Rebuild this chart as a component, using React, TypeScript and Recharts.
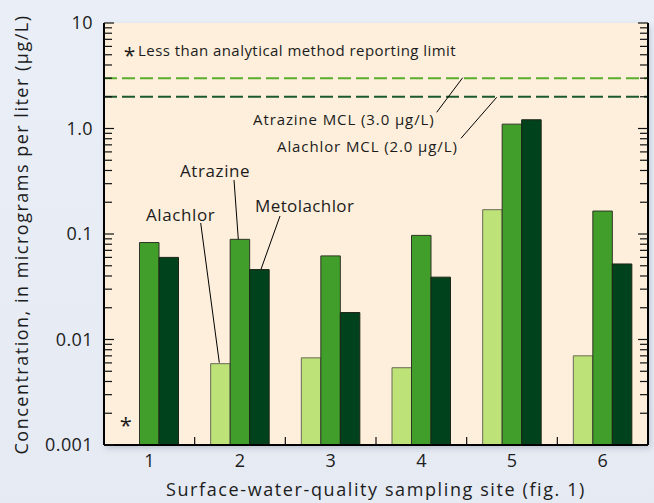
import React from 'react';
import { BarChart, Bar, XAxis, YAxis, ReferenceLine, LabelList } from 'recharts';

const sites = ['1', '2', '3', '4', '5', '6'];
const alachlor = [null, 0.0059, 0.0067, 0.0054, 0.17, 0.007];
const atrazine = [0.083, 0.089, 0.062, 0.097, 1.1, 0.165];
const metolachlor = [0.06, 0.046, 0.018, 0.039, 1.21, 0.052];
// alachlor at site 1 was below the reporting limit
const belowLimit = [true, false, false, false, false, false];

const majorTicks = [0.001, 0.01, 0.1, 1, 10];
const majorLabels = ['0.001', '0.01', '0.1', '1.0', '10'];
const minorSteps = [2, 3, 4, 5, 6, 7, 8, 9];
const minorTicks = majorTicks.slice(0, -1).flatMap((d) => minorSteps.map((m) => +(d * m).toPrecision(3)));
const allTicks = [...majorTicks, ...minorTicks];

const atrazineMCL = 3.0;
const alachlorMCL = 2.0;

const data = sites.map((site, i) => ({
  site,
  alachlor: alachlor[i],
  atrazine: atrazine[i],
  metolachlor: metolachlor[i],
}));

const FONT = "'Open Sans', sans-serif";
const INK = '#1c1c1c';
const TICK = '#111';
const LEFT_MARGIN = 11;

const LeftTick = (props: any) => {
  const { x, y, payload } = props;
  const edge = Number(x) + LEFT_MARGIN;
  const i = majorTicks.indexOf(payload.value);
  const major = i >= 0;
  return (
    <g>
      <line x1={edge} x2={edge + (major ? 10 : 8)} y1={y} y2={y} stroke={TICK} strokeWidth={1.2} />
      {major && (
        <text x={x} y={y} dy="0.36em" textAnchor="end" fontSize={18} letterSpacing={0.4} fontFamily={FONT} fill={INK}>
          {majorLabels[i]}
        </text>
      )}
    </g>
  );
};

const RightTick = (props: any) => {
  const { x, y, payload } = props;
  const major = majorTicks.indexOf(payload.value) >= 0;
  return <line x1={Number(x) - (major ? 10 : 8)} x2={Number(x)} y1={y} y2={y} stroke={TICK} strokeWidth={1.2} />;
};

const TopTick = (props: any) => {
  const { x, y, index, visibleTicksCount, width } = props;
  if (index >= visibleTicksCount - 1) return <g />;
  const bx = Number(x) + width / visibleTicksCount / 2;
  return <line x1={bx} x2={bx} y1={y} y2={y + 7} stroke={TICK} strokeWidth={1.2} />;
};

const BottomTick = (props: any) => {
  const { x, y, index, visibleTicksCount, width, payload } = props;
  const bx = Number(x) + width / visibleTicksCount / 2;
  return (
    <g>
      {index < visibleTicksCount - 1 && (
        <line x1={bx} x2={bx} y1={y} y2={y - 8} stroke={TICK} strokeWidth={1.2} />
      )}
      <text x={x} y={y + 22} textAnchor="middle" fontSize={18} fontFamily={FONT} fill={INK}>
        {payload.value}
      </text>
    </g>
  );
};

const Asterisk = (props: any) => {
  const { x, y, width, height, index } = props;
  if (!belowLimit[index]) return null;
  return (
    <text x={x - width / 2 - 4} y={y + height - 12} textAnchor="middle" fontSize={22} fontFamily={FONT} fill={INK}>
      *
    </text>
  );
};

export default function App() {
  return (
    <div
      style={{
        position: 'absolute',
        left: 0,
        top: 0,
        width: 654,
        height: 503,
        background: 'linear-gradient(#e9eef7, #e5eaf3)',
        fontFamily: FONT,
      }}
    >
      {/* plot panel background, sits under the svg so inward ticks stay visible */}
      <div
        style={{
          position: 'absolute',
          left: 104,
          top: 23,
          width: 544,
          height: 422,
          background: '#fdefdb',
          boxShadow: '2px 3px 6px rgba(60,70,90,0.25)',
        }}
      />
      <div style={{ position: 'absolute', left: 0, top: 0 }}>
        <BarChart
          width={654}
          height={503}
          data={data}
          margin={{ top: 23, right: 0, bottom: 28, left: 0 }}
          barSize={19.5}
          barGap={0}
        >
          <XAxis
            dataKey="site"
            xAxisId={0}
            height={30}
            interval={0}
            tickSize={0}
            tickMargin={0}
            tickLine={false}
            axisLine={{ stroke: '#000', strokeWidth: 2 }}
            tick={<BottomTick />}
          />
          <XAxis
            dataKey="site"
            xAxisId="top"
            orientation="top"
            height={0}
            interval={0}
            tickSize={0}
            tickMargin={0}
            tickLine={false}
            axisLine={{ stroke: '#000', strokeWidth: 2 }}
            tick={<TopTick />}
          />
          <YAxis
            yAxisId="left"
            scale="log"
            domain={[0.001, 10]}
            allowDataOverflow
            ticks={allTicks}
            interval={0}
            width={104}
            tickSize={0}
            tickMargin={LEFT_MARGIN}
            tickLine={false}
            axisLine={{ stroke: '#000', strokeWidth: 2 }}
            tick={<LeftTick />}
          />
          <YAxis
            yAxisId="right"
            orientation="right"
            scale="log"
            domain={[0.001, 10]}
            allowDataOverflow
            ticks={allTicks}
            interval={0}
            width={6}
            tickSize={0}
            tickMargin={0}
            tickLine={false}
            axisLine={{ stroke: '#000', strokeWidth: 2 }}
            tick={<RightTick />}
          />
          <ReferenceLine yAxisId="left" y={atrazineMCL} stroke="#5aae2c" strokeWidth={2} strokeDasharray="13 5" />
          <ReferenceLine yAxisId="left" y={alachlorMCL} stroke="#1b5a2c" strokeWidth={2} strokeDasharray="13 5" />
          <Bar yAxisId="left" dataKey="alachlor" fill="#bde277" stroke="#6a6a55" strokeWidth={1} isAnimationActive={false} />
          <Bar yAxisId="left" dataKey="atrazine" fill="#429e2a" stroke="#2e3526" strokeWidth={1} isAnimationActive={false}>
            <LabelList dataKey="atrazine" content={<Asterisk />} />
          </Bar>
          <Bar yAxisId="left" dataKey="metolachlor" fill="#00421b" stroke="#1a2418" strokeWidth={1} isAnimationActive={false} />
        </BarChart>
      </div>

      <svg
        width={654}
        height={503}
        style={{ position: 'absolute', left: 0, top: 0, pointerEvents: 'none' }}
        fontFamily={FONT}
        fill={INK}
      >
        <text x={129.5} y={63} textAnchor="middle" fontSize={21}>*</text>
        <text x={138} y={56} fontSize={15} letterSpacing={0.45}>Less than analytical method reporting limit</text>

        <text x={253} y={125} fontSize={15} letterSpacing={0.9}>Atrazine MCL (3.0 µg/L)</text>
        <line x1={436.7} y1={112.3} x2={462.7} y2={77.7} stroke="#000" strokeWidth={1} />
        <text x={277} y={151.7} fontSize={15} letterSpacing={0.9}>Alachlor MCL (2.0 µg/L)</text>
        <line x1={461} y1={138.3} x2={496.7} y2={97.3} stroke="#000" strokeWidth={1} />

        <text x={146} y={221} fontSize={17} letterSpacing={0.6}>Alachlor</text>
        <line x1={200.7} y1={223} x2={219.3} y2={362.7} stroke="#000" strokeWidth={1} />
        <text x={180} y={176.7} fontSize={17} letterSpacing={0.6}>Atrazine</text>
        <line x1={234} y1={180} x2={238.3} y2={239.3} stroke="#000" strokeWidth={1} />
        <text x={255} y={212.3} fontSize={17} letterSpacing={0.4}>Metolachlor</text>
        <line x1={280} y1={216} x2={261} y2={269.3} stroke="#000" strokeWidth={1} />

        <text x={28} y={234.5} transform="rotate(-90, 28, 234.5)" textAnchor="middle" fontSize={18} letterSpacing={1.5}>
          Concentration, in micrograms per liter (µg/L)
        </text>
        <text x={376} y={496} textAnchor="middle" fontSize={18} letterSpacing={1.6}>
          Surface-water-quality sampling site (fig. 1)
        </text>
      </svg>
    </div>
  );
}
